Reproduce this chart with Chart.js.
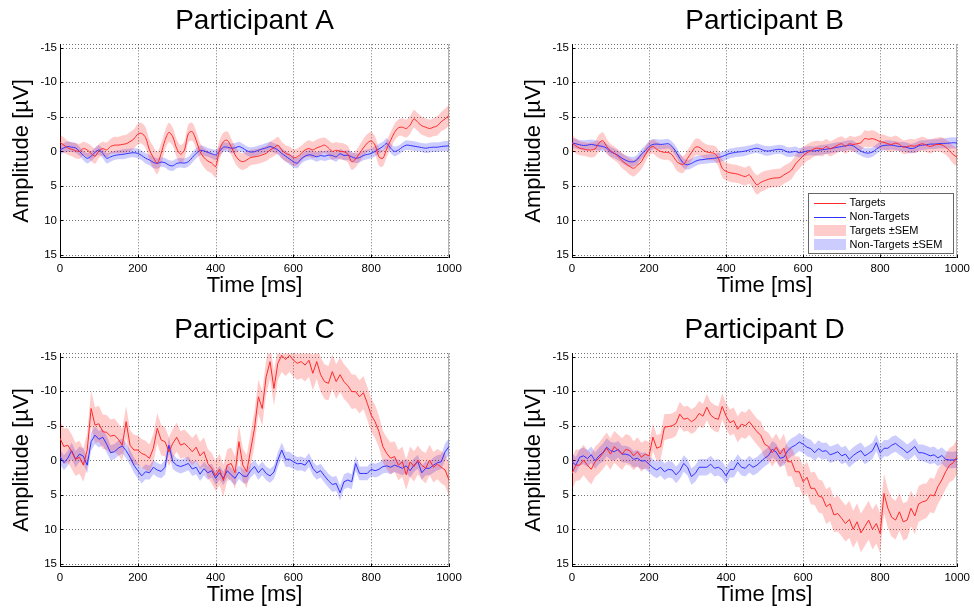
<!DOCTYPE html>
<html>
<head>
<meta charset="utf-8">
<title>ERP per participant</title>
<script src="https://cdn.jsdelivr.net/npm/chart.js@4.4.1/dist/chart.umd.min.js"></script>
<style>
  body { margin: 0; background: #fff; width: 974px; height: 610px; position: relative; overflow: hidden; }
  canvas { position: absolute; }
</style>
</head>
<body>
<canvas id="chartA" width="487" height="300" style="left:0px;top:0px"></canvas>
<canvas id="chartB" width="462" height="300" style="left:512px;top:0px"></canvas>
<canvas id="chartC" width="487" height="310" style="left:0px;top:300px"></canvas>
<canvas id="chartD" width="462" height="310" style="left:512px;top:300px"></canvas>
<script>
// sample times (ms)
const timeMs = [0,10,20,30,40,50,60,70,80,90,100,110,120,130,140,150,160,170,180,190,
  200,210,220,230,240,250,260,270,280,290,300,310,320,330,340,350,360,370,380,390,
  400,410,420,430,440,450,460,470,480,490,500,510,520,530,540,550,560,570,580,590,
  600,610,620,630,640,650,660,670,680,690,700,710,720,730,740,750,760,770,780,790,
  800,810,820,830,840,850,860,870,880,890,900,910,920,930,940,950,960,970,980,990,1000];

const participantNames = ['Participant A', 'Participant B', 'Participant C', 'Participant D'];
const xTicks = [0, 200, 400, 600, 800, 1000];
const yTicks = [-15, -10, -5, 0, 5, 10, 15];
const legendLabels = ['Targets', 'Non-Targets', 'Targets \u00b1SEM', 'Non-Targets \u00b1SEM'];

// participant A
const ampA_targets = [-1.3,-0.9,-0.5,-0.3,-0.1,0.0,-0.4,-0.2,0.3,0.7,
  -0.05,-0.4,-0.2,-0.7,-0.9,-0.9,-1.0,-1.1,-1.4,-1.8,
  -2.5,-2.6,-2.0,-0.2,0.9,1.7,0.3,-1.6,-2.75,-2.1,
  -0.4,0.4,-0.2,-2.6,-2.85,-1.6,0.05,0.9,1.4,1.7,
  2.2,-0.2,-1.4,-1.6,-0.7,0.5,1.25,1.5,1.25,0.9,
  0.8,0.7,0.5,0.3,-0.2,-0.5,-0.9,-0.2,0.3,0.5,
  0.9,0.8,0.3,-0.2,-0.4,-0.2,-0.5,-0.7,-0.9,-0.5,
  0.0,-0.15,0.0,0.05,0.4,1.5,1.1,0.3,-0.5,-1.2,
  -1.5,-0.9,0.8,1.0,-0.4,-1.6,-2.75,-3.4,-3.5,-3.3,
  -3.8,-4.7,-4.2,-3.7,-3.5,-3.3,-3.5,-3.7,-4.3,-4.7,
  -5.2];
const semA_targets = [1.1,1.1,1.0,1.0,1.1,1.1,1.0,1.0,1.1,1.1,
  1.0,1.0,1.1,1.1,1.2,1.2,1.3,1.3,1.4,1.4,
  1.5,1.5,1.5,1.5,1.6,1.6,1.5,1.4,1.4,1.3,
  1.3,1.3,1.3,1.3,1.3,1.3,1.3,1.4,1.5,1.5,
  1.6,1.4,1.3,1.3,1.2,1.2,1.2,1.2,1.2,1.1,
  1.1,1.1,1.1,1.1,1.2,1.2,1.2,1.2,1.2,1.2,
  1.2,1.2,1.1,1.1,1.2,1.2,1.2,1.2,1.1,1.1,
  1.2,1.2,1.2,1.2,1.2,1.2,1.2,1.2,1.3,1.3,
  1.3,1.3,1.3,1.2,1.2,1.2,1.2,1.2,1.3,1.3,
  1.3,1.3,1.3,1.3,1.3,1.3,1.3,1.4,1.4,1.5,
  1.5];
const ampA_nonTargets = [-0.2,-0.5,-0.7,-0.6,-0.5,0.0,0.6,1.0,0.7,0.15,
  -0.2,0.3,1.0,0.8,0.6,0.5,0.45,0.35,0.25,0.2,
  0.3,0.6,1.0,1.25,1.6,1.75,1.55,1.65,2.0,2.1,
  1.75,1.65,1.7,1.5,0.9,0.3,-0.15,-0.05,0.15,0.35,
  0.5,0.0,-0.6,-0.6,-0.45,-0.5,-0.7,-0.45,-0.1,0.1,
  0.05,-0.15,-0.35,-0.5,-0.7,-0.5,-0.2,0.3,0.7,1.1,
  1.5,1.7,1.1,0.7,0.5,0.6,0.8,0.6,0.7,0.55,
  0.6,0.8,0.35,0.6,0.55,0.8,1.0,0.9,0.6,0.45,
  0.3,0.0,-0.35,-0.7,-1.15,-0.45,0.0,-0.2,-0.6,-0.9,
  -0.85,-0.75,-0.65,-0.55,-0.45,-0.55,-0.6,-0.6,-0.7,-0.75,
  -0.8];
const semA_nonTargets = [0.7,0.7,0.75,0.7,0.7,0.65,0.7,0.75,0.7,0.7,
  0.7,0.7,0.75,0.7,0.65,0.65,0.7,0.7,0.65,0.65,
  0.7,0.7,0.75,0.75,0.8,0.75,0.7,0.7,0.75,0.75,
  0.7,0.7,0.7,0.7,0.75,0.75,0.7,0.7,0.65,0.7,
  0.75,0.7,0.7,0.65,0.7,0.7,0.7,0.65,0.65,0.7,
  0.7,0.7,0.65,0.7,0.7,0.7,0.7,0.75,0.75,0.8,
  0.8,0.75,0.7,0.7,0.7,0.65,0.7,0.7,0.7,0.7,
  0.65,0.7,0.7,0.7,0.7,0.75,0.7,0.7,0.7,0.7,
  0.7,0.75,0.75,0.7,0.75,0.7,0.7,0.65,0.65,0.7,
  0.7,0.7,0.65,0.65,0.7,0.7,0.7,0.7,0.7,0.75,
  0.75];

// participant B
const ampB_targets = [-1.2,-0.8,-0.45,-0.35,-0.2,-0.2,-0.35,-1.2,-1.55,-0.7,
  -0.1,0.3,0.75,1.35,1.8,2.2,2.45,2.0,1.5,0.5,
  -0.35,-0.7,-0.3,0.0,0.15,0.15,0.5,1.35,1.8,1.85,
  1.0,0.2,-0.6,-0.6,-0.2,0.1,0.2,0.3,1.0,2.45,
  2.9,3.1,3.2,3.3,3.5,3.65,3.4,4.15,4.85,4.5,
  4.25,4.05,3.9,3.85,3.8,3.4,3.1,2.7,1.85,1.25,
  0.65,0.2,-0.1,-0.4,-0.45,-0.35,-0.7,-0.35,-0.6,-0.9,
  -1.1,-0.75,-1.1,-1.0,-1.1,-1.25,-1.85,-1.75,-1.85,-1.65,
  -1.4,-1.3,-1.1,-1.0,-1.2,-1.0,-0.6,-0.7,-0.8,-0.75,
  -0.95,-1.1,-0.9,-0.7,-0.9,-1.0,-0.95,-0.6,-0.1,0.5,
  0.85];
const semB_targets = [1.1,1.1,1.0,1.0,1.0,1.1,1.1,1.2,1.2,1.1,
  1.0,1.0,1.0,1.1,1.1,1.2,1.2,1.2,1.1,1.1,
  1.0,1.0,1.1,1.1,1.1,1.1,1.2,1.3,1.3,1.2,
  1.2,1.2,1.2,1.2,1.1,1.1,1.1,1.1,1.2,1.3,
  1.3,1.3,1.3,1.3,1.3,1.3,1.3,1.3,1.4,1.4,
  1.4,1.3,1.3,1.3,1.3,1.3,1.3,1.3,1.3,1.3,
  1.3,1.2,1.2,1.1,1.1,1.1,1.1,1.1,1.1,1.1,
  1.1,1.1,1.1,1.1,1.1,1.1,1.2,1.2,1.2,1.2,
  1.1,1.1,1.1,1.1,1.1,1.0,1.0,1.0,1.0,1.0,
  1.0,1.0,1.0,1.0,1.0,1.0,1.1,1.1,1.2,1.3,
  1.3];
const ampB_nonTargets = [-1.2,-1.1,-0.95,-0.85,-0.9,-1.0,-0.9,-0.8,-0.7,-0.45,
  0.05,0.3,0.6,1.0,1.3,1.5,1.5,1.15,0.4,-0.1,
  -0.7,-1.0,-1.05,-1.0,-1.05,-1.1,-0.7,0.05,1.0,1.75,
  1.95,1.75,1.45,1.25,1.2,1.1,1.05,1.0,0.9,0.75,
  0.5,0.3,0.2,0.1,0.05,-0.05,-0.2,-0.35,-0.45,-0.3,
  -0.1,-0.05,-0.15,-0.25,-0.3,-0.15,0.1,0.1,0.0,0.2,
  0.1,-0.05,-0.1,-0.05,-0.15,-0.25,-0.3,-0.4,-0.5,-0.6,
  -0.7,-0.8,-0.9,-0.8,-0.4,-0.05,0.2,0.25,0.1,-0.3,
  -0.7,-0.85,-0.9,-0.9,-0.8,-0.7,-0.7,-0.55,-0.4,-0.5,
  -0.8,-0.9,-0.95,-1.05,-1.05,-1.1,-1.15,-1.15,-1.2,-1.25,
  -1.2];
const semB_nonTargets = [0.7,0.7,0.7,0.75,0.75,0.7,0.7,0.7,0.65,0.65,
  0.7,0.7,0.7,0.7,0.75,0.75,0.7,0.7,0.7,0.75,
  0.75,0.75,0.7,0.7,0.7,0.7,0.7,0.75,0.75,0.7,
  0.7,0.7,0.7,0.65,0.65,0.65,0.65,0.65,0.7,0.7,
  0.7,0.7,0.7,0.7,0.7,0.7,0.65,0.65,0.7,0.7,
  0.7,0.7,0.65,0.65,0.65,0.7,0.7,0.7,0.7,0.7,
  0.7,0.65,0.65,0.65,0.7,0.7,0.7,0.7,0.7,0.7,
  0.7,0.7,0.7,0.75,0.75,0.7,0.7,0.7,0.7,0.7,
  0.7,0.7,0.7,0.65,0.65,0.65,0.7,0.7,0.7,0.7,
  0.7,0.7,0.7,0.7,0.7,0.7,0.75,0.75,0.8,0.8,
  0.8];

// participant C
const ampC_targets = [-3.2,-2.0,-2.2,-1.25,-0.15,-0.45,0.7,-1.5,-7.5,-5.1,
  -5.3,-4.15,-4.05,-3.5,-3.65,-3.05,-2.2,-5.6,-2.2,-1.5,
  -1.5,-1.0,-0.75,-0.3,-1.75,-4.65,-2.95,-2.7,-1.25,-2.45,
  -3.35,-2.2,-2.45,-1.9,-1.25,-1.9,-0.65,-1.25,0.45,1.15,
  2.25,1.3,2.95,0.7,0.45,1.8,-2.7,0.7,1.65,-1.5,
  -4.65,-9.2,-7.5,-12.1,-14.3,-10.4,-14.05,-15.2,-14.6,-15.2,
  -14.5,-14.05,-14.3,-13.8,-14.5,-12.6,-14.3,-12.4,-11.4,-11.15,
  -12.85,-11.4,-12.4,-11.4,-10.8,-9.95,-9.95,-9.2,-9.8,-8.25,
  -6.55,-5.6,-4.15,-2.0,-1.0,-0.3,-0.55,0.7,0.2,2.1,
  0.2,0.9,-0.05,0.7,1.15,-0.05,1.0,0.55,1.0,1.4,
  2.85];
const semC_targets = [2.6,2.6,2.5,2.5,2.4,2.4,2.4,2.5,2.6,2.6,
  2.6,2.5,2.5,2.4,2.4,2.3,2.3,2.3,2.2,2.2,
  2.1,2.1,2.1,2.0,2.1,2.2,2.2,2.1,2.1,2.1,
  2.1,2.0,2.0,2.0,2.0,2.0,2.0,2.1,2.1,2.2,
  2.2,2.3,2.3,2.3,2.3,2.4,2.4,2.4,2.4,2.5,
  2.5,2.5,2.5,2.5,2.5,2.5,2.4,2.4,2.4,2.4,
  2.4,2.4,2.4,2.4,2.4,2.5,2.5,2.5,2.5,2.5,
  2.5,2.5,2.5,2.5,2.5,2.5,2.4,2.4,2.4,2.4,
  2.4,2.4,2.3,2.3,2.3,2.3,2.2,2.2,2.2,2.2,
  2.2,2.2,2.1,2.1,2.2,2.2,2.2,2.2,2.3,2.3,
  2.3];
const ampC_nonTargets = [-0.55,0.35,-0.3,-1.4,-0.15,-0.9,-0.6,0.7,-2.7,-3.65,
  -3.05,-3.35,-2.35,-1.1,-1.25,-1.75,-2.1,-1.4,-0.45,0.7,
  1.5,2.25,1.65,1.8,1.0,1.4,1.6,1.0,-2.2,0.2,
  0.7,0.9,0.7,0.45,1.25,1.0,2.0,1.2,1.8,1.5,
  2.6,1.8,2.6,1.5,2.1,2.6,1.7,2.25,2.35,1.5,
  0.9,1.8,1.15,1.9,2.25,1.7,-0.05,-1.5,-0.15,-0.15,
  0.2,0.5,0.45,0.7,-0.05,1.15,1.8,1.5,2.25,2.95,
  3.5,3.35,4.7,3.1,2.85,3.1,0.45,1.9,1.9,1.9,
  1.3,1.5,1.3,0.9,0.8,1.0,0.7,0.9,1.15,0.8,
  1.5,0.7,0.2,1.8,1.15,1.15,0.7,0.35,0.2,-1.25,
  -2.0];
const semC_nonTargets = [1.1,1.1,1.1,1.2,1.2,1.1,1.1,1.2,1.3,1.3,
  1.2,1.2,1.2,1.1,1.1,1.1,1.1,1.1,1.1,1.1,
  1.1,1.1,1.1,1.0,1.0,1.0,1.0,1.1,1.1,1.1,
  1.0,1.0,1.0,1.0,1.0,1.0,1.0,1.0,1.0,1.0,
  1.0,1.0,1.0,1.0,1.0,1.0,1.0,1.0,1.0,1.0,
  1.0,1.0,1.0,1.0,1.0,1.0,1.1,1.1,1.1,1.1,
  1.0,1.0,1.0,1.0,1.0,1.0,1.0,1.0,1.0,1.0,
  1.1,1.1,1.1,1.1,1.1,1.1,1.1,1.0,1.0,1.0,
  1.0,1.0,1.0,1.0,1.0,1.0,1.0,1.0,1.0,1.0,
  1.0,1.0,1.0,1.0,1.0,1.0,1.1,1.1,1.1,1.2,
  1.2];

// participant D
const ampD_targets = [1.9,0.7,0.7,-0.05,0.7,1.3,0.2,-0.3,-1.0,-1.75,
  -0.9,-2.0,-1.4,-0.9,-1.6,-1.4,-0.65,-1.25,-0.45,-0.9,
  -0.65,-3.35,-1.75,-2.0,-4.8,-4.9,-5.0,-5.35,-6.7,-5.95,
  -6.1,-5.6,-5.95,-6.8,-6.4,-7.7,-6.55,-6.1,-5.95,-7.8,
  -6.4,-5.45,-5.75,-4.5,-5.25,-5.0,-5.6,-4.9,-4.15,-3.65,
  -2.35,-2.0,-1.1,-1.9,-0.9,-1.75,0.2,0.2,1.65,1.65,
  3.1,2.45,4.05,4.05,5.15,5.35,6.7,6.3,7.9,7.7,
  8.4,9.15,8.55,10.0,8.9,10.5,9.6,8.65,10.0,9.15,
  10.6,4.8,6.95,8.25,8.65,7.45,8.9,8.65,6.95,8.05,
  6.3,6.0,5.85,5.0,5.15,3.8,2.85,1.65,0.7,0.35,
  -0.55];
const semD_targets = [2.3,2.3,2.2,2.2,2.2,2.2,2.2,2.2,2.3,2.3,
  2.3,2.3,2.3,2.3,2.2,2.2,2.1,2.1,2.1,2.0,
  2.0,2.0,1.9,1.9,1.9,1.8,1.8,1.8,1.8,1.8,
  1.8,1.8,1.8,1.8,1.8,1.9,1.9,1.9,1.9,1.9,
  1.9,1.9,1.9,1.9,1.9,1.9,1.9,1.9,1.9,2.0,
  2.0,2.0,2.0,2.0,2.0,2.1,2.1,2.1,2.2,2.2,
  2.2,2.3,2.3,2.4,2.4,2.4,2.5,2.5,2.5,2.6,
  2.6,2.6,2.7,2.7,2.7,2.8,2.8,2.8,2.9,2.9,
  2.9,2.9,2.8,2.8,2.8,2.7,2.7,2.7,2.6,2.6,
  2.6,2.6,2.5,2.5,2.5,2.5,2.5,2.5,2.5,2.5,
  2.5];
const ampD_nonTargets = [0.2,0.7,-0.45,-0.65,-0.25,-0.8,0.05,-0.65,-1.1,-1.9,
  -1.4,-1.25,-1.6,-0.9,-0.9,-0.7,-0.15,-0.3,0.1,0.05,
  0.55,1.05,1.4,1.0,1.65,1.3,1.4,2.1,1.5,0.45,
  1.0,2.35,1.9,1.0,1.0,1.0,0.55,1.15,1.0,1.4,
  2.25,1.3,1.3,0.3,1.0,1.15,0.55,1.0,0.7,0.2,
  -0.3,-0.7,-1.6,-1.2,-0.3,-0.45,-1.4,-1.9,-2.2,-2.65,
  -2.35,-1.9,-1.7,-1.1,-1.7,-1.3,-1.4,-0.8,-1.0,-1.25,
  -0.65,-0.9,-0.15,-0.7,-1.1,-1.4,-0.65,-1.0,-1.4,-2.55,
  -1.1,-1.75,-1.75,-2.2,-2.45,-2.0,-1.6,-1.1,-1.5,-2.0,
  -1.1,-1.1,-0.9,-0.65,-0.8,-0.35,-0.7,-0.15,-0.05,-0.05,
  -0.15];
const semD_nonTargets = [1.2,1.2,1.2,1.2,1.2,1.2,1.2,1.2,1.3,1.3,
  1.3,1.3,1.2,1.2,1.2,1.2,1.2,1.2,1.2,1.2,
  1.2,1.2,1.2,1.2,1.2,1.2,1.2,1.2,1.2,1.2,
  1.2,1.2,1.2,1.2,1.2,1.2,1.2,1.2,1.2,1.2,
  1.2,1.2,1.2,1.2,1.2,1.2,1.2,1.2,1.2,1.2,
  1.2,1.2,1.2,1.2,1.2,1.2,1.3,1.3,1.3,1.3,
  1.3,1.3,1.3,1.2,1.2,1.2,1.2,1.2,1.2,1.2,
  1.2,1.2,1.2,1.2,1.2,1.2,1.2,1.2,1.2,1.2,
  1.2,1.2,1.2,1.2,1.2,1.2,1.2,1.2,1.2,1.2,
  1.2,1.2,1.2,1.2,1.2,1.2,1.2,1.2,1.2,1.2,
  1.2];

const FONT = "'Liberation Sans', Arial, Helvetica, sans-serif";
const GRID_COLOR = 'rgba(0,0,0,0.55)';
const RED_LINE = 'rgb(255,40,40)';
const BLUE_LINE = 'rgb(50,50,255)';
const RED_BAND = 'rgba(255,0,0,0.2)';
const BLUE_BAND = 'rgba(0,0,255,0.2)';

const panels = [
  { id: 'chartA', name: participantNames[0], t: ampA_targets, tSem: semA_targets, n: ampA_nonTargets, nSem: semA_nonTargets, row: 0, padRight: 38, tension: 0.3, legend: false },
  { id: 'chartB', name: participantNames[1], t: ampB_targets, tSem: semB_targets, n: ampB_nonTargets, nSem: semB_nonTargets, row: 0, padRight: 14, tension: 0.3, legend: true },
  { id: 'chartC', name: participantNames[2], t: ampC_targets, tSem: semC_targets, n: ampC_nonTargets, nSem: semC_nonTargets, row: 1, padRight: 38, tension: 0, legend: false },
  { id: 'chartD', name: participantNames[3], t: ampD_targets, tSem: semD_targets, n: ampD_nonTargets, nSem: semD_nonTargets, row: 1, padRight: 14, tension: 0, legend: false }
];

// layout per row: title padding, x axis box height, x title padding
const rowLayout = [
  { titleTop: 4, titleBottom: 6.7, xHeight: 42.3, xTitleBottom: 0.7 },
  { titleTop: 13, titleBottom: 6.7, xHeight: 43.3, xTitleBottom: 1.8 }
];

const toPoints = vals => vals.map((v, i) => ({ x: timeMs[i], y: v }));
const upper = (m, s) => m.map((v, i) => ({ x: timeMs[i], y: v - s[i] }));
const lower = (m, s) => m.map((v, i) => ({ x: timeMs[i], y: v + s[i] }));

// dotted grid, dotted top edge, gray right edge, small inward tick marks
const frameLines = {
  id: 'frameLines',
  beforeDatasetsDraw(chart) {
    const { ctx, chartArea: a, scales } = chart;
    ctx.save();
    ctx.lineWidth = 1;
    ctx.setLineDash([1, 2]);
    ctx.strokeStyle = GRID_COLOR;
    ctx.beginPath();
    scales.x.ticks.forEach(t => {
      const px = Math.round(scales.x.getPixelForValue(t.value)) + 0.5;
      ctx.moveTo(px, a.top); ctx.lineTo(px, a.bottom);
    });
    scales.y.ticks.forEach(t => {
      const py = Math.round(scales.y.getPixelForValue(t.value)) + 0.5;
      ctx.moveTo(a.left, py); ctx.lineTo(a.right, py);
    });
    const top = Math.round(a.top) + 0.5;
    ctx.moveTo(a.left, top); ctx.lineTo(a.right, top);
    ctx.stroke();
    ctx.setLineDash([]);
    ctx.strokeStyle = '#b4b4b4';
    const r = Math.round(a.right) - 0.5;
    ctx.beginPath(); ctx.moveTo(r, a.top); ctx.lineTo(r, a.bottom); ctx.stroke();
    ctx.strokeStyle = '#000';
    ctx.beginPath();
    scales.x.ticks.forEach(t => {
      const px = Math.round(scales.x.getPixelForValue(t.value)) + 0.5;
      ctx.moveTo(px, a.bottom); ctx.lineTo(px, a.bottom - 3);
    });
    scales.y.ticks.forEach(t => {
      const py = Math.round(scales.y.getPixelForValue(t.value)) + 0.5;
      ctx.moveTo(a.left, py); ctx.lineTo(a.left + 3, py);
    });
    ctx.stroke();
    ctx.restore();
  }
};

const legendBox = {
  id: 'legendBox',
  afterDraw(chart, args, opts) {
    if (!opts.show) return;
    const { ctx, chartArea: a } = chart;
    const w = 145, h = 60;
    const left = Math.round(a.right - 4 - w) + 0.5;
    const top = Math.round(a.bottom - 5 - h) + 0.5;
    const swatches = [
      { line: RED_LINE }, { line: BLUE_LINE }, { band: RED_BAND }, { band: BLUE_BAND }
    ];
    ctx.save();
    ctx.fillStyle = '#fff';
    ctx.fillRect(left, top, w, h);
    ctx.strokeStyle = '#666';
    ctx.lineWidth = 1;
    ctx.strokeRect(left, top, w, h);
    ctx.font = '11px ' + FONT;
    ctx.textBaseline = 'middle';
    legendLabels.forEach((label, i) => {
      const cy = top + 9.5 + i * 13.9;
      const sw = swatches[i];
      if (sw.line) {
        ctx.fillStyle = sw.line;
        ctx.fillRect(Math.round(left + 5), Math.round(cy), 32, 1);
      } else {
        ctx.fillStyle = sw.band;
        ctx.fillRect(Math.round(left + 5), Math.round(cy - 5.5), 32, 11);
      }
      ctx.fillStyle = '#000';
      ctx.fillText(label, left + 41, cy);
    });
    ctx.restore();
  }
};

panels.forEach(p => {
  const L = rowLayout[p.row];
  const bandStyle = { borderWidth: 0, borderColor: 'rgba(0,0,0,0)', pointRadius: 0, order: 1, tension: p.tension };
  new Chart(document.getElementById(p.id), {
    type: 'line',
    data: {
      datasets: [
        { ...bandStyle, label: 'Targets +SEM', data: upper(p.t, p.tSem), fill: '+1', backgroundColor: RED_BAND },
        { ...bandStyle, label: 'Targets -SEM', data: lower(p.t, p.tSem), fill: false },
        { ...bandStyle, label: 'Non-Targets +SEM', data: upper(p.n, p.nSem), fill: '+1', backgroundColor: BLUE_BAND },
        { ...bandStyle, label: 'Non-Targets -SEM', data: lower(p.n, p.nSem), fill: false },
        { label: 'Targets', data: toPoints(p.t), borderColor: RED_LINE, borderWidth: 1, pointRadius: 0, fill: false, order: 0, tension: p.tension },
        { label: 'Non-Targets', data: toPoints(p.n), borderColor: BLUE_LINE, borderWidth: 1, pointRadius: 0, fill: false, order: 0, tension: p.tension }
      ]
    },
    options: {
      responsive: false,
      animation: false,
      devicePixelRatio: 1,
      events: [],
      layout: { padding: { left: 0, right: p.padRight, top: 0, bottom: 0 } },
      plugins: {
        legend: { display: false },
        tooltip: { enabled: false },
        title: {
          display: true, text: p.name, fullSize: false, color: '#000',
          font: { family: FONT, size: 28, weight: 'normal' },
          padding: { top: L.titleTop, bottom: L.titleBottom }
        },
        legendBox: { show: p.legend }
      },
      scales: {
        x: {
          type: 'linear', min: 0, max: 1000,
          afterBuildTicks: axis => { axis.ticks = xTicks.map(v => ({ value: v })); },
          afterFit: s => { s.height = L.xHeight; },
          ticks: { color: '#000', font: { family: FONT, size: 11.5 }, padding: 4, maxRotation: 0, callback: v => String(v) },
          grid: { display: false, drawTicks: false },
          border: { display: true, color: '#000', width: 1 },
          title: { display: true, text: 'Time [ms]', color: '#000', font: { family: FONT, size: 22 }, padding: { top: 0, bottom: L.xTitleBottom } }
        },
        y: {
          type: 'linear', min: -15.5, max: 15.4, reverse: true,
          afterBuildTicks: axis => { axis.ticks = yTicks.map(v => ({ value: v })); },
          afterFit: s => { s.width = 60; },
          ticks: { color: '#000', font: { family: FONT, size: 11.5 }, padding: 3, callback: v => String(v) },
          grid: { display: false, drawTicks: false },
          border: { display: true, color: '#000', width: 1 },
          title: { display: true, text: 'Amplitude [\u00b5V]', color: '#000', font: { family: FONT, size: 22 }, padding: { top: 9, bottom: 0 } }
        }
      }
    },
    plugins: [frameLines, legendBox]
  });
});
</script>
</body>
</html>
